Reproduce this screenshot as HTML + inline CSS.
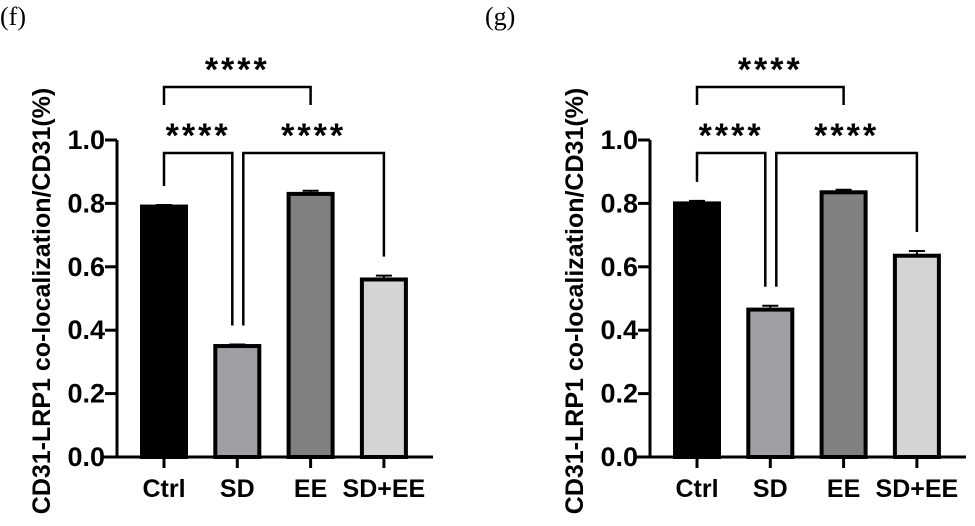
<!DOCTYPE html>
<html><head><meta charset="utf-8"><style>
body{margin:0;background:#fff;}
svg{display:block;}
</style></head><body>
<svg id="c" width="975" height="526" viewBox="0 0 975 526"></svg>
<script>
const categories=["Ctrl","SD","EE","SD+EE"];
const valuesF=[0.79,0.35,0.83,0.56];
const errorsF=[0.795,0.355,0.84,0.572];
const valuesG=[0.80,0.465,0.835,0.635];
const errorsG=[0.808,0.477,0.843,0.65];
const yTicks=[0,0.2,0.4,0.6,0.8,1.0];
const yTickLabels=["0.0","0.2","0.4","0.6","0.8","1.0"];
const colors=["#000000","#a0a0a4","#808080","#d4d4d4"];
const sigLabel="****";
const NS="http://www.w3.org/2000/svg";
const svg=document.getElementById('c');
const SANS="font-family:'Liberation Sans',Arial,sans-serif;font-weight:bold;";
function mk(t,a,p){const e=document.createElementNS(NS,t);for(const k in a)e.setAttribute(k,a[k]);(p||svg).appendChild(e);return e;}
function panel(ox,vals,errs,label,name){
  const g=mk('g',{});
  
  
  const axX=117+ox, y0=457, y1=140;
  const Y=v=>y0-(y0-y1)*v;
  const X=i=>164+ox+i*73.3;
  const pl=mk('text',{x:ox===0?0:485,y:25,style:"font-family:'Liberation Serif',serif;font-size:26px;"},g);pl.textContent=label;
  
  
  vals.forEach((v,i)=>{
    const r=mk('rect',{x:X(i)-22,y:Y(v),width:44,height:y0-Y(v),fill:colors[i],stroke:'#000','stroke-width':4},g);
    
    
    const e=mk('path',{d:`M${X(i)} ${Y(v)} V${Y(errs[i])} M${X(i)-8} ${Y(errs[i])} H${X(i)+8}`,stroke:'#000','stroke-width':2,fill:'none'},g);
    
    
  });
  const ax=mk('path',{d:`M${axX} ${y1} V${y0} M${axX-14} ${y0} H${433+ox}`,stroke:'#000','stroke-width':3,fill:'none'},g);
  
  
  yTicks.forEach((t,i)=>{
    mk('line',{x1:axX-12,x2:axX,y1:Y(t),y2:Y(t),stroke:'#000','stroke-width':3},g);
    const tl=mk('text',{x:axX-12,y:Y(t)+9,'text-anchor':'end',style:SANS+"font-size:27px;"},g);
    tl.textContent=yTickLabels[i];
    
    
  });
  categories.forEach((c,i)=>{
    mk('line',{x1:X(i),x2:X(i),y1:y0,y2:y0+11,stroke:'#000','stroke-width':3},g);
    const xl=mk('text',{x:X(i),y:497,'text-anchor':'middle',style:SANS+"font-size:25px;"},g);
    xl.textContent=c;
    
    
  });
  const tt=mk('text',{x:0,y:0,'text-anchor':'middle',transform:`translate(${50+ox},301) rotate(-90)`,style:SANS+"font-size:25px;"},g);
  tt.textContent="CD31-LRP1 co-localization/CD31(%)";
  
  
  const legEnd=i=>Y(errs[i])-19;
  function bracket(xa,ya,xb,yb,yt,name){
    const b=mk('path',{d:`M${xa} ${ya} V${yt} H${xb} V${yb}`,stroke:'#000','stroke-width':2.5,fill:'none'},g);
    
    
    const s=mk('text',{x:(xa+xb)/2,y:yt-6,'text-anchor':'middle',style:SANS+"font-size:34px;letter-spacing:3px;"},g);
    s.textContent=sigLabel;
    
    
  }
  bracket(X(0),105,X(2),105,87,'bracket-ctrl-ee');
  bracket(X(0),legEnd(0),X(1)-5,legEnd(1),153,'bracket-ctrl-sd');
  bracket(X(1)+6,legEnd(1),X(3),legEnd(3),153,'bracket-sd-sdee');
}
panel(0,valuesF,errorsF,"(f)","chart-f");
panel(533,valuesG,errorsG,"(g)","chart-g");
</script>
</body></html>
